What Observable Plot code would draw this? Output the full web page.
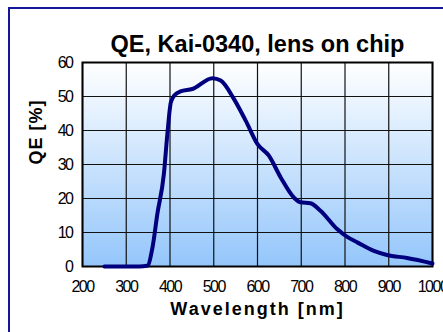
<!DOCTYPE html>
<html><head><meta charset="utf-8">
<script src="https://cdn.jsdelivr.net/npm/d3@7"></script>
<script src="https://cdn.jsdelivr.net/npm/@observablehq/plot@0.6"></script>
<style>
html,body{margin:0;padding:0;background:#fff;overflow:hidden;}
#wrap{position:relative;width:443px;height:332px;overflow:hidden;}
#border{position:absolute;left:8px;top:7px;width:460px;height:360px;border:2px solid #16169a;box-sizing:border-box;}
#chart{position:absolute;left:0;top:0;}
</style></head><body>
<div id="wrap"><div id="border"></div><div id="chart"></div></div>
<script>
const title = "QE, Kai-0340, lens on chip";
const xLabel = "Wavelength [nm]";
const yLabel = "QE [%]";
const xTicks = [200,300,400,500,600,700,800,900,1000];
const yTicks = [0,10,20,30,40,50,60];
const wavelength = [250,330,348,360,371,386,394,402,412,424,451,497,516,546,573,600,626,653,683,698,721,744,782,805,828,866,896,942,1000];
const qe = [0,0,0.2,5.6,15.4,27.2,39,48.3,50.6,51.5,52.2,55.4,54.7,49.3,42.9,36,32.6,26.2,20.3,18.9,18.6,16.4,11,8.7,7.1,4.6,3.4,2.5,0.9];
const data = wavelength.map((w,i)=>({w, q: qe[i]}));

const chart = Plot.plot({
  width: 443, height: 332,
  marginLeft: 82, marginRight: 11, marginTop: 62, marginBottom: 66,
  style: {fontFamily: "Liberation Sans, Arial, sans-serif", background: "transparent", overflow: "visible"},
  x: {domain: [200,1000]},
  y: {domain: [0,60]},
  marks: [
    Plot.frame({fill: "url(#bgGrad)", stroke: "none"}),
    Plot.gridX(xTicks, {stroke: "#111", strokeOpacity: 1, strokeWidth: 1.2}),
    Plot.gridY(yTicks, {stroke: "#111", strokeOpacity: 1, strokeWidth: 1.2}),
    Plot.frame({stroke: "#000", strokeWidth: 2}),
    Plot.axisX(xTicks, {tickSize: 0, tickPadding: 14, fontSize: 16, fill: "#000", label: null, tickFormat: d=>String(d)}),
    Plot.axisY(yTicks, {tickSize: 0, tickPadding: 10, fontSize: 16, fill: "#000", label: null, tickFormat: d=>String(d)}),
    Plot.line(data, {x: "w", y: "q", stroke: "#00007f", strokeWidth: 4, curve: "monotone-x"}),
    Plot.text([title], {frameAnchor: "top", dy: -27, text: d=>d, fontSize: 23.5, fontWeight: "bold", fill: "#000"}),
    Plot.text([xLabel], {frameAnchor: "bottom", dy: 48, text: d=>d, fontSize: 18, fontWeight: "bold", fill: "#000"}),
    Plot.text([yLabel], {frameAnchor: "left", dx: -46, rotate: -90, text: d=>d, fontSize: 18, fontWeight: "bold", fill: "#000"})
  ]
});
const ns = "http://www.w3.org/2000/svg";
const defs = document.createElementNS(ns, "defs");
defs.innerHTML = '<linearGradient id="bgGrad" x1="0" y1="0" x2="0" y2="1"><stop offset="0" stop-color="#ffffff"/><stop offset="1" stop-color="#94c6fb"/></linearGradient>';
chart.insertBefore(defs, chart.firstChild);
chart.querySelectorAll('g[aria-label="x-axis tick label"] text, g[aria-label="y-axis tick label"] text').forEach(t=>t.setAttribute("letter-spacing","-1.5"));
const texts = chart.querySelectorAll('g[aria-label="text"] text');
texts.forEach(t=>{
  if (t.textContent === xLabel) t.setAttribute("letter-spacing","2");
  if (t.textContent === yLabel) t.setAttribute("letter-spacing","1");
});
document.getElementById("chart").appendChild(chart);
</script>
</body></html>
